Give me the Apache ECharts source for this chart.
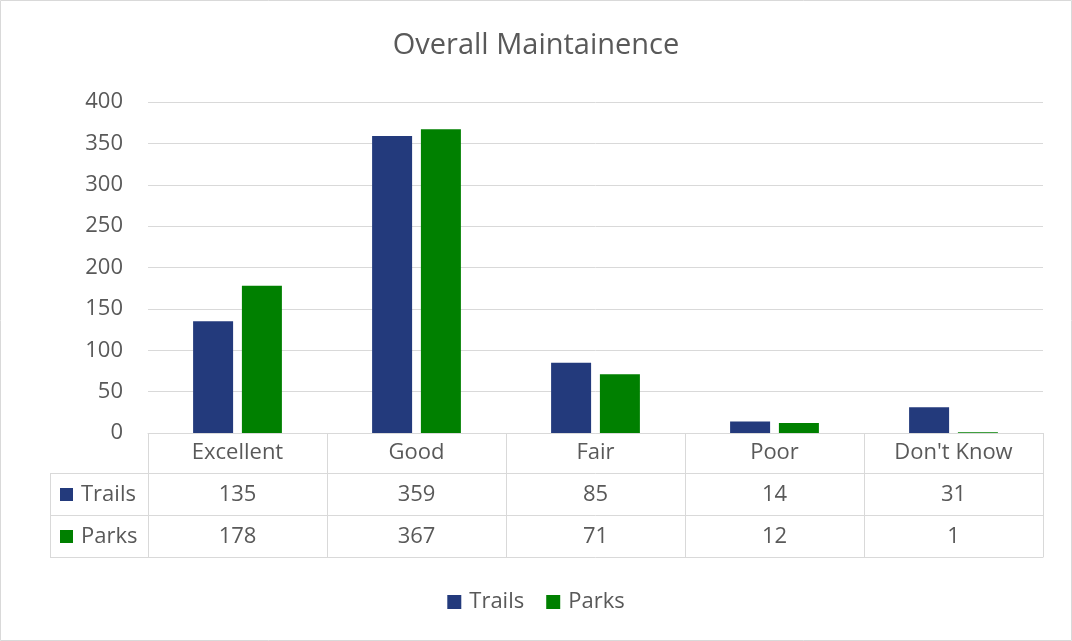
<!DOCTYPE html>
<html>
<head>
<meta charset="utf-8">
<script src="https://cdn.jsdelivr.net/npm/echarts@6/dist/echarts.min.js"></script>
<style>
  html, body { margin: 0; padding: 0; background: #fff; }
  #chart { width: 1072px; height: 641px; }
</style>
</head>
<body>
<div id="chart"></div>
<script>
// 数据
const categories = ["Excellent", "Good", "Fair", "Poor", "Don't Know"];
const trails = [135, 359, 85, 14, 31];
const parks = [178, 367, 71, 12, 1];
const seriesNames = ["Trails", "Parks"];
const colors = ["#233A7C", "#008000"];

const textColor = "#595959";
const lineColor = "#d9d9d9";
const font = "Open Sans";
const fs = 22;

// 数据表的一行 = 一个额外的x轴
function tableAxis(labels, offset, tickLen, margin) {
  return {
    type: "category",
    data: labels,
    position: "bottom",
    offset: offset,
    axisLine: { show: true, lineStyle: { color: lineColor, width: 1 } },
    axisTick: { show: tickLen > 0, length: tickLen, interval: 0, lineStyle: { color: lineColor } },
    axisLabel: { show: labels.length > 0, interval: 0, margin: margin, color: textColor, fontSize: fs, fontFamily: font },
    splitLine: { show: false }
  };
}

const chart = echarts.init(document.getElementById("chart"));

const option = {
  animation: false,
  textStyle: { fontFamily: font },
  title: {
    text: "Overall Maintainence",
    left: "center",
    top: 26,
    textStyle: { color: textColor, fontSize: 29, fontWeight: "normal", fontFamily: font }
  },
  legend: {
    data: seriesNames,
    top: 586,
    left: "center",
    icon: "rect",
    itemWidth: 14,
    itemHeight: 14,
    itemGap: 22,
    textStyle: { color: textColor, fontSize: fs, fontFamily: font, padding: [0, 0, 0, 3] }
  },
  grid: { left: 148, right: 29, top: 102, bottom: 208 },
  xAxis: [
    tableAxis(categories, 0, 40, 9),
    tableAxis(trails.map(String), 40, 42, 11),
    tableAxis(parks.map(String), 82, 42, 11),
    tableAxis([], 124, 0, 0)
  ],
  yAxis: {
    type: "value",
    min: 0,
    max: 400,
    interval: 50,
    axisLine: { show: false },
    axisTick: { show: false },
    axisLabel: { color: textColor, fontSize: fs, margin: 25, fontFamily: font },
    splitLine: { lineStyle: { color: lineColor, width: 1 } }
  },
  series: [
    { name: seriesNames[0], type: "bar", xAxisIndex: 0, data: trails, barWidth: 40, barGap: "22%", itemStyle: { color: colors[0] } },
    { name: seriesNames[1], type: "bar", xAxisIndex: 0, data: parks, barWidth: 40, barGap: "22%", itemStyle: { color: colors[1] } }
  ],
  graphic: [
    // 外框
    { type: "rect", shape: { x: 0.5, y: 0.5, width: 1071, height: 640 }, style: { fill: null, stroke: lineColor, lineWidth: 1 }, silent: true },
    // 数据表左列
    { type: "line", shape: { x1: 50, y1: 473.5, x2: 148, y2: 473.5 }, style: { stroke: lineColor } },
    { type: "line", shape: { x1: 50, y1: 515.5, x2: 148, y2: 515.5 }, style: { stroke: lineColor } },
    { type: "line", shape: { x1: 50, y1: 557.5, x2: 148, y2: 557.5 }, style: { stroke: lineColor } },
    { type: "line", shape: { x1: 50.5, y1: 473, x2: 50.5, y2: 557 }, style: { stroke: lineColor } },
    { type: "rect", shape: { x: 60, y: 488, width: 13, height: 13 }, style: { fill: colors[0] } },
    { type: "text", x: 81, y: 495, style: { text: seriesNames[0], fill: textColor, fontSize: fs, fontFamily: font, verticalAlign: "middle" } },
    { type: "rect", shape: { x: 60, y: 530, width: 13, height: 13 }, style: { fill: colors[1] } },
    { type: "text", x: 81, y: 537, style: { text: seriesNames[1], fill: textColor, fontSize: fs, fontFamily: font, verticalAlign: "middle" } }
  ]
};

chart.setOption(option);
</script>
</body>
</html>
